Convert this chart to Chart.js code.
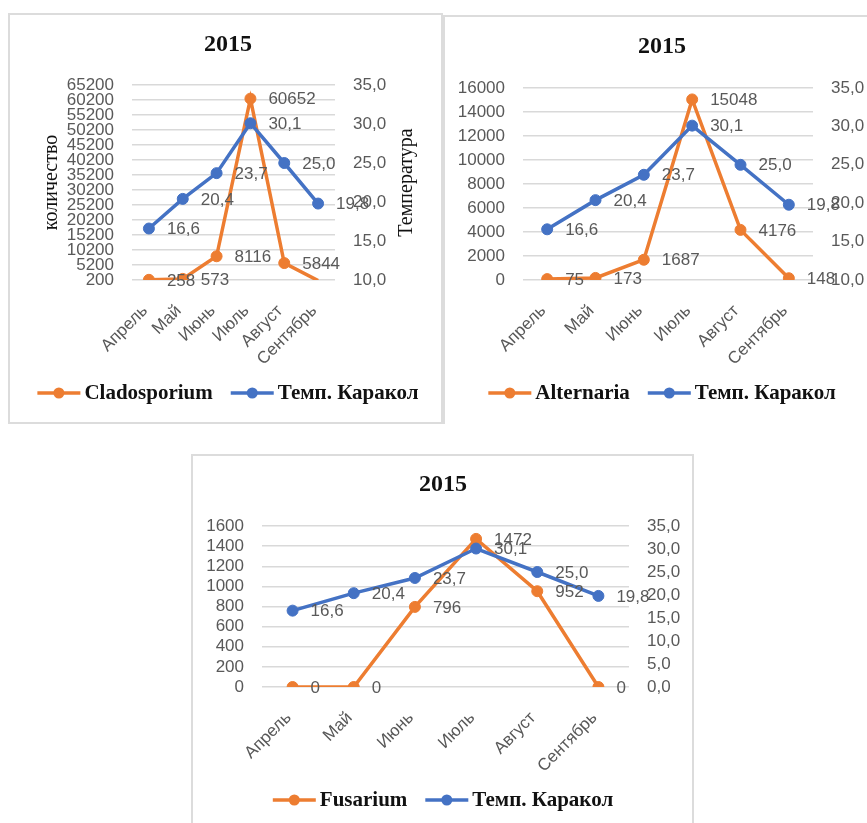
<!DOCTYPE html>
<html><head><meta charset="utf-8">
<script src="https://cdn.jsdelivr.net/npm/chart.js@4.4.0/dist/chart.umd.min.js"></script>
<style>
html,body{margin:0;padding:0;background:#fff;overflow:hidden;width:867px;height:823px;}
.panel{position:absolute;border:2px solid #dcdcdc;box-sizing:border-box;}
canvas{position:absolute;}
</style></head><body>
<div class="panel" style="left:8px;top:13px;width:435px;height:411px;"></div>
<div class="panel" style="left:443px;top:15px;width:440px;height:409px;border-bottom:none;"></div>
<div class="panel" style="left:191px;top:454px;width:503px;height:380px;border-bottom:none;"></div>
<canvas id="c1" style="left:10px;top:16px;width:431px;height:406px;" width="431" height="406"></canvas>
<canvas id="c2" style="left:445px;top:17px;width:434px;height:406px;" width="434" height="406"></canvas>
<canvas id="c3" style="left:193px;top:456px;width:500px;height:367px;" width="500" height="367"></canvas>
<script>
// ---- data ----
const months = ['Апрель', 'Май', 'Июнь', 'Июль', 'Август', 'Сентябрь'];
const tempKarakol = [16.6, 20.4, 23.7, 30.1, 25.0, 19.8];
const cladosporium = [258, 573, 8116, 60652, 5844, 0];
const alternaria = [75, 173, 1687, 15048, 4176, 148];
const fusarium = [0, 0, 796, 1472, 952, 0];
const chartTitle = '2015';
const tempName = 'Темп. Каракол';
const leftTitle = 'количество';
const rightTitle = 'Температура';
// axis ranges [min, max, step]
const cladoAxis = [200, 65200, 5000];
const alterAxis = [0, 16000, 2000];
const fusAxis = [0, 1600, 200];
const tempAxis12 = [10, 35, 5];
const tempAxis3 = [0, 35, 5];

const ORANGE = '#ED7D31', BLUE = '#4472C4', GRAY = '#595959';
const SANS = '"Liberation Sans", Arial, sans-serif';
const SERIF = '"Liberation Serif", "Times New Roman", serif';
const fmtTemp = v => v.toFixed(1).replace('.', ',');
const fmtInt = v => String(v);

const extras = {
  id: 'extras',
  afterDatasetsDraw(chart, args, o) {
    const ctx = chart.ctx;
    ctx.save();
    ctx.font = '17px ' + SANS;
    ctx.fillStyle = GRAY;
    ctx.textBaseline = 'middle';
    ctx.textAlign = 'left';
    chart.data.datasets.forEach((ds, di) => {
      const meta = chart.getDatasetMeta(di);
      const sc = chart.scales[ds.yAxisID];
      meta.data.forEach((pt, i) => {
        const v = ds.data[i];
        if (v < sc.min || v > sc.max) return;
        ctx.fillText(ds.fmt(v), pt.x + 18, pt.y + 1);
      });
    });
    ctx.restore();
  },
  afterDraw(chart, args, o) {
    const ctx = chart.ctx;
    ctx.save();
    if (o.rightTitle) {
      const r = chart.scales.yR;
      ctx.translate(o.rightTitleX, (r.top + r.bottom) / 2);
      ctx.rotate(-Math.PI / 2);
      ctx.font = '20px ' + SERIF;
      ctx.fillStyle = '#111';
      ctx.textAlign = 'center';
      ctx.textBaseline = 'middle';
      ctx.fillText(o.rightTitle, 0, 0);
    }
    ctx.restore();
    ctx.save();
    // legend
    ctx.font = 'bold 21px ' + SERIF;
    const items = chart.data.datasets.slice().sort((a, b) => a.legendIndex - b.legendIndex);
    const lineW = 43, gapT = 4, gapI = 18;
    const widths = items.map(d => lineW + gapT + ctx.measureText(d.label).width);
    const total = widths.reduce((a, b) => a + b, 0) + gapI * (items.length - 1);
    let x = o.legendX - total / 2;
    const y = o.legendY;
    items.forEach((d, k) => {
      ctx.strokeStyle = d.borderColor;
      ctx.lineWidth = 3.5;
      ctx.beginPath(); ctx.moveTo(x, y); ctx.lineTo(x + lineW, y); ctx.stroke();
      ctx.fillStyle = d.borderColor;
      ctx.beginPath(); ctx.arc(x + lineW / 2, y, 5.5, 0, Math.PI * 2); ctx.fill();
      ctx.fillStyle = '#111';
      ctx.textAlign = 'left'; ctx.textBaseline = 'middle';
      ctx.fillText(d.label, x + lineW + gapT, y + 1);
      x += widths[k] + gapI;
    });
    ctx.restore();
  }
};

function yAxis(pos, range, fmt, width, grid, title) {
  const ax = {
    type: 'linear', position: pos, min: range[0], max: range[1],
    grid: { display: grid, color: '#d9d9d9', lineWidth: 1.5, drawTicks: false },
    border: { display: false },
    ticks: { stepSize: range[2], autoSkip: false, padding: 18, color: GRAY,
      font: { family: SANS, size: 17 }, callback: v => fmt(v) },
    afterFit: s => { s.width = width; }
  };
  if (title) {
    ax.title = { display: true, text: title.text, color: '#111',
      font: { family: SERIF, size: 20 }, padding: { top: title.pad, bottom: 0 } };
  }
  return ax;
}

function makeChart(id, cfg) {
  const ptR = ctx => {
    const sc = ctx.chart.scales[ctx.dataset.yAxisID];
    const v = ctx.raw;
    return (v < sc.min || v > sc.max) ? 0 : 5.5;
  };
  new Chart(document.getElementById(id), {
    type: 'line',
    data: {
      labels: months,
      datasets: [
        { label: tempName, data: tempKarakol, yAxisID: 'yR', fmt: fmtTemp, legendIndex: 1,
          borderColor: BLUE, backgroundColor: BLUE, pointBackgroundColor: BLUE, pointBorderColor: BLUE,
          borderWidth: 3.5, pointRadius: ptR, pointBorderWidth: 1, tension: 0 },
        { label: cfg.name, data: cfg.values, yAxisID: 'yL', fmt: fmtInt, legendIndex: 0,
          borderColor: ORANGE, backgroundColor: ORANGE, pointBackgroundColor: ORANGE, pointBorderColor: ORANGE,
          borderWidth: 3.5, pointRadius: ptR, pointBorderWidth: 1, tension: 0 }
      ]
    },
    options: {
      responsive: false, animation: false, devicePixelRatio: 1,
      layout: { padding: { left: cfg.padLeft, right: 0, top: 0, bottom: 0 } },
      scales: {
        x: { type: 'category', offset: true, grid: { display: false }, border: { display: false },
          ticks: { minRotation: 45, maxRotation: 45, autoSkip: false, padding: 13, labelOffset: -4,
            color: GRAY, font: { family: SANS, size: 17 } },
          afterFit: s => { s.height = cfg.xH; } },
        yL: yAxis('left', cfg.leftAxis, fmtInt, cfg.yLW, true, cfg.leftTitle),
        yR: yAxis('right', cfg.rightAxis, fmtTemp, cfg.yRW, false, null)
      },
      plugins: {
        legend: { display: false },
        tooltip: { enabled: false },
        title: { display: true, text: chartTitle, color: '#111',
          font: { family: SERIF, size: 24, weight: 'bold', lineHeight: 1.2 },
          padding: { top: cfg.tTop, bottom: cfg.tBot } },
        extras: { legendX: cfg.legendX, legendY: cfg.legendY,
          rightTitle: cfg.rightTitle, rightTitleX: cfg.rightTitleX }
      }
    },
    plugins: [extras]
  });
}

makeChart('c1', { name: 'Cladosporium', values: cladosporium, leftAxis: cladoAxis, rightAxis: tempAxis12,
  padLeft: 5, yLW: 117, yRW: 106, xH: 142, tTop: 14.6, tBot: 25.6,
  leftTitle: { text: leftTitle, pad: 25 }, rightTitle: rightTitle, rightTitleX: 397,
  legendX: 218, legendY: 377 });
makeChart('c2', { name: 'Alternaria', values: alternaria, leftAxis: alterAxis, rightAxis: tempAxis12,
  padLeft: 0, yLW: 78, yRW: 66, xH: 143, tTop: 15.6, tBot: 26.6,
  leftTitle: null, rightTitle: null, legendX: 217, legendY: 376 });
makeChart('c3', { name: 'Fusarium', values: fusarium, leftAxis: fusAxis, rightAxis: tempAxis3,
  padLeft: 0, yLW: 69, yRW: 64, xH: 136, tTop: 14.6, tBot: 26.6,
  leftTitle: null, rightTitle: null, legendX: 250, legendY: 344 });
</script>
</body></html>
